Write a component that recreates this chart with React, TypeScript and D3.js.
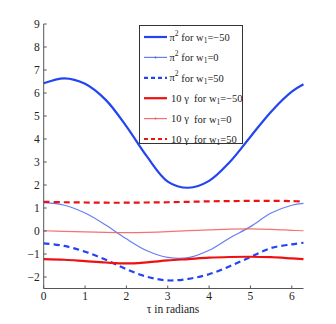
import React from 'react';
import * as d3 from 'd3';

// sample points along tau (radians)
const tauSamples = [0, 0.5, 1, 1.5, 2, 2.5, 3, 3.5, 4, 4.5, 5, 5.5, 6, 6.283];

// pi^2 curves
const piSqNeg50 = [6.42, 6.64, 6.4, 5.7, 4.55, 3.23, 2.15, 1.88, 2.18, 3.0, 4.1, 5.19, 6.06, 6.38];
const piSqZero = [1.23, 1.12, 0.78, 0.26, -0.34, -0.86, -1.15, -1.16, -0.84, -0.3, 0.19, 0.78, 1.12, 1.2];
const piSqPos50 = [-0.54, -0.65, -0.9, -1.25, -1.66, -1.99, -2.15, -2.08, -1.88, -1.53, -1.13, -0.74, -0.58, -0.51];

// 10*gamma curves
const gammaNeg50 = [-1.22, -1.25, -1.31, -1.37, -1.41, -1.36, -1.28, -1.22, -1.16, -1.13, -1.12, -1.14, -1.19, -1.22];
const gammaZero = [0.01, -0.02, -0.04, -0.06, -0.07, -0.06, -0.03, 0.02, 0.05, 0.08, 0.09, 0.07, 0.03, 0.01];
const gammaPos50 = [1.27, 1.25, 1.24, 1.23, 1.23, 1.24, 1.25, 1.27, 1.29, 1.3, 1.31, 1.31, 1.3, 1.28];

const xTicks = [0, 1, 2, 3, 4, 5, 6];
const yTicks = [-2, -1, 0, 1, 2, 3, 4, 5, 6, 7, 8, 9];

const seriesLabels = [
  { sym: 'π', sup: '2', w: '−50' },
  { sym: 'π', sup: '2', w: '0' },
  { sym: 'π', sup: '2', w: '50' },
  { sym: '10 γ\u00a0', sup: '', w: '−50' },
  { sym: '10 γ\u00a0', sup: '', w: '0' },
  { sym: '10 γ\u00a0', sup: '', w: '50' },
];

const BLUE = '#2244f2';
const RED = '#ee1111';

export default function App() {
  const width = 336;
  const height = 324;
  const x = d3.scaleLinear().domain([0, 2 * Math.PI]).range([43.7, 303.5]);
  const y = d3.scaleLinear().domain([-2.5, 9]).range([288.5, 24]);

  const line = d3
    .line<number>()
    .x((_, i) => x(tauSamples[i]))
    .y((d) => y(d))
    .curve(d3.curveCatmullRom.alpha(0.5));

  const series = [
    { vals: piSqNeg50, color: BLUE, w: 2.2, dash: '', dot: false },
    { vals: piSqZero, color: '#4a68f0', w: 1.2, dash: '', dot: true },
    { vals: piSqPos50, color: BLUE, w: 2.2, dash: '6,4', dot: false },
    { vals: gammaNeg50, color: RED, w: 2.2, dash: '', dot: false },
    { vals: gammaZero, color: '#f05a5a', w: 1.2, dash: '', dot: true },
    { vals: gammaPos50, color: RED, w: 2.2, dash: '6,4', dot: false },
  ];

  const font = "'Liberation Serif', 'Times New Roman', serif";
  const legX = 139.5;
  const legY = 25.5;
  const legW = 103;
  const legH = 118;
  const rowY = (i: number) => 37 + i * 20.4;

  return (
    <svg
      width={width}
      height={height}
      style={{ position: 'absolute', left: 0, top: 0, background: '#fff', fontFamily: font }}
    >
      {series.map((s, i) => (
        <path
          key={i}
          d={line(s.vals) || ''}
          fill="none"
          stroke={s.color}
          strokeWidth={s.w}
          strokeDasharray={s.dash || undefined}
          opacity={s.dot ? 0.85 : 1}
        />
      ))}

      {/* axes */}
      <line x1={x(0)} x2={x(0)} y1={y(-2.5)} y2={y(9)} stroke="#555" strokeWidth={1} />
      <line x1={x(0)} x2={x(2 * Math.PI)} y1={y(-2.5)} y2={y(-2.5)} stroke="#555" strokeWidth={1} />
      {yTicks.map((t) => (
        <g key={'y' + t}>
          <line x1={x(0)} x2={x(0) + 3} y1={y(t)} y2={y(t)} stroke="#555" />
          <text x={x(0) - 4} y={y(t)} textAnchor="end" dominantBaseline="central" fontSize={11.5} fill="#222">
            {t < 0 ? '−' + Math.abs(t) : t}
          </text>
        </g>
      ))}
      {xTicks.map((t) => (
        <g key={'x' + t}>
          <line x1={x(t)} x2={x(t)} y1={y(-2.5)} y2={y(-2.5) - 3} stroke="#555" />
          <text x={x(t)} y={y(-2.5) + 7} textAnchor="middle" dominantBaseline="central" fontSize={11.5} fill="#222">
            {t}
          </text>
        </g>
      ))}
      <text x={173} y={308.5} textAnchor="middle" dominantBaseline="central" fontSize={11.5} fill="#222">
        τ in radians
      </text>

      {/* legend */}
      <rect x={legX} y={legY} width={legW} height={legH} fill="#fff" stroke="#333" strokeWidth={1} />
      {series.map((s, i) => (
        <g key={'l' + i}>
          <line
            x1={144}
            x2={167}
            y1={rowY(i)}
            y2={rowY(i)}
            stroke={s.color}
            strokeWidth={s.w}
            strokeDasharray={s.dash ? '4,3' : undefined}
            opacity={s.dot ? 0.85 : 1}
          />
          {s.dot && <circle cx={155.5} cy={rowY(i)} r={1} fill={s.color} />}
          <text x={i < 3 ? 169.5 : 171} y={rowY(i)} dominantBaseline="central" fontSize={10.5} fill="#222">
            {seriesLabels[i].sym}
            {seriesLabels[i].sup && (
              <tspan fontSize={7.5} dy={-4.5}>
                {seriesLabels[i].sup}
              </tspan>
            )}
            <tspan dy={seriesLabels[i].sup ? 4.5 : 0}>{' for w'}</tspan>
            <tspan fontSize={7.5} dy={3}>
              1
            </tspan>
            <tspan dy={-3}>{'=' + seriesLabels[i].w}</tspan>
          </text>
        </g>
      ))}
    </svg>
  );
}
